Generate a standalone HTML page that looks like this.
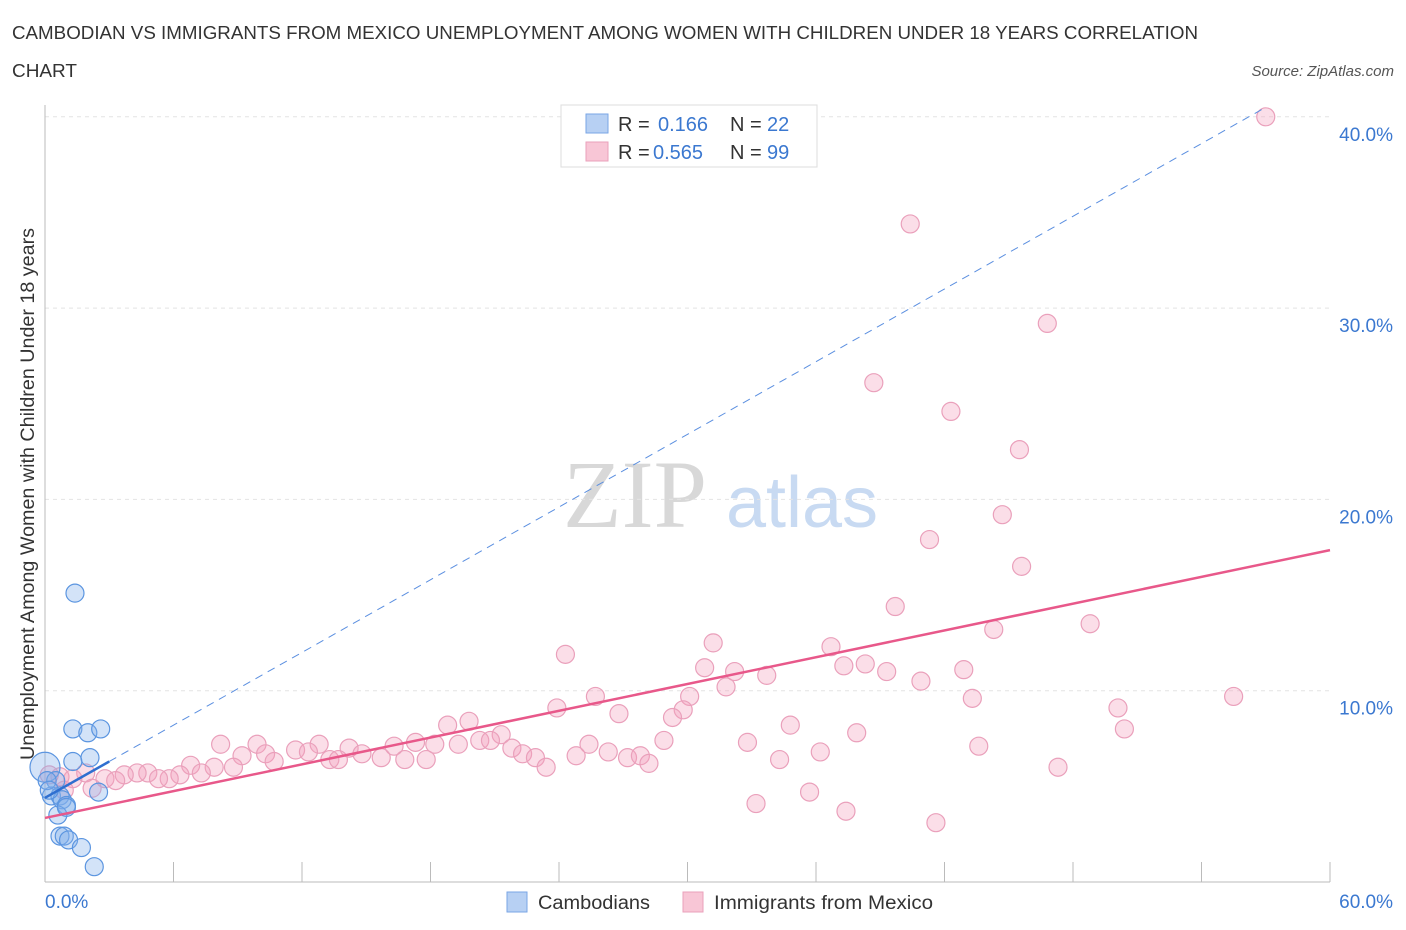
<!DOCTYPE html>
<html><head><meta charset="utf-8"><style>
body{margin:0;background:#fff;font-family:"Liberation Sans",sans-serif;}
svg{display:block}
</style></head><body>
<svg id="chart" width="1406" height="930" xmlns="http://www.w3.org/2000/svg">
<text x="12" y="39" font-size="18.5" fill="#333" textLength="1186" lengthAdjust="spacingAndGlyphs">CAMBODIAN VS IMMIGRANTS FROM MEXICO UNEMPLOYMENT AMONG WOMEN WITH CHILDREN UNDER 18 YEARS CORRELATION</text>
<text x="12" y="77" font-size="18.5" fill="#333" textLength="65" lengthAdjust="spacingAndGlyphs">CHART</text>
<text x="1394" y="76" font-size="15" fill="#555" font-style="italic" text-anchor="end">Source: ZipAtlas.com</text>
<text x="635" y="527" font-size="96" fill="#d8d8d8" font-family="Liberation Serif, serif" text-anchor="middle">ZIP</text>
<text x="802" y="527" font-size="72" fill="#c8daf2" text-anchor="middle">atlas</text>
<g id="grid"></g>
<g id="axes"></g>
<text transform="translate(34,494) rotate(-90)" font-size="19" fill="#333" text-anchor="middle" textLength="532" lengthAdjust="spacingAndGlyphs">Unemployment Among Women with Children Under 18 years</text>
<g id="marks"></g>
<g>
<rect x="561" y="105" width="256" height="62" fill="#fff" stroke="#ddd"/>
<rect x="586" y="114" width="22" height="19" fill="#b7d0f3" stroke="#7aa6e6"/>
<rect x="586" y="142" width="22" height="19" fill="#f8c6d6" stroke="#eaa0bb"/>
<text x="618" y="131" font-size="20" fill="#333">R = </text><text x="658" y="131" font-size="20" fill="#3b78d0">0.166</text>
<text x="730" y="131" font-size="20" fill="#333">N = </text><text x="767" y="131" font-size="20" fill="#3b78d0">22</text>
<text x="618" y="159" font-size="20" fill="#333">R = </text><text x="653" y="159" font-size="20" fill="#3b78d0">0.565</text>
<text x="730" y="159" font-size="20" fill="#333">N = </text><text x="767" y="159" font-size="20" fill="#3b78d0">99</text>
</g>
<g>
<rect x="507" y="892" width="20" height="20" fill="#b7d0f3" stroke="#7aa6e6"/>
<text x="538" y="909" font-size="19" fill="#333" textLength="112" lengthAdjust="spacingAndGlyphs">Cambodians</text>
<rect x="683" y="892" width="20" height="20" fill="#f8c6d6" stroke="#eaa0bb"/>
<text x="714" y="909" font-size="19" fill="#333" textLength="219" lengthAdjust="spacingAndGlyphs">Immigrants from Mexico</text>
</g>
</svg>
<script>
const yTicks=[10,20,30,40];
const yTickLabels=["10.0%","20.0%","30.0%","40.0%"];
const xTickLabels=["0.0%","60.0%"];
const blueX=[1.4,1.3,2.0,2.6,1.3,2.1,0,0.5,0.3,0.7,0.8,1.0,2.5,0.6,1.0,0.7,0.9,1.1,1.7,2.3,0.1,0.2];
const blueY=[15.1,8.0,7.8,8.0,6.3,6.5,6.0,5.3,4.5,4.5,4.3,4.0,4.7,3.5,3.9,2.4,2.4,2.2,1.8,0.8,5.3,4.8];
const pinkX=[57.0,40.4,46.8,38.7,42.3,45.5,44.7,41.3,45.6,39.7,44.3,48.8,31.2,36.7,24.3,30.8,32.2,38.3,42.9,37.3,33.7,39.3,31.8,40.9,25.7,30.1,43.3,55.5,23.9,50.1,29.8,29.3,26.8,18.8,19.8,34.8,50.4,37.9,21.3,20.3,20.8,28.9,32.8,8.2,9.9,12.8,17.3,18.2,19.3,25.4,43.6,21.8,14.2,16.3,11.7,10.3,9.2,12.3,22.3,26.3,14.8,15.7,16.8,17.8,22.9,24.8,27.2,27.8,10.7,13.3,13.7,28.2,34.3,36.2,23.4,47.3,6.8,8.8,7.9,7.3,6.3,4.8,4.3,3.7,5.8,5.3,1.9,2.8,3.3,1.3,0.7,2.2,33.2,35.7,37.4,41.6,0.2,0.9];
const pinkY=[40.0,34.4,29.2,26.1,24.6,22.6,19.2,17.9,16.5,14.4,13.2,13.5,12.5,12.3,11.9,11.2,11.0,11.4,11.1,11.3,10.8,11.0,10.2,10.5,9.7,9.7,9.6,9.7,9.1,9.1,9.0,8.6,8.8,8.2,8.4,8.2,8.0,7.8,7.7,7.4,7.4,7.4,7.3,7.2,7.2,7.2,7.3,7.2,7.2,7.2,7.1,7.0,7.0,7.1,6.9,6.7,6.6,6.8,6.7,6.8,6.7,6.5,6.4,6.4,6.5,6.6,6.5,6.6,6.3,6.4,6.4,6.2,6.4,6.8,6.0,6.0,6.1,6.0,6.0,5.7,5.6,5.7,5.7,5.6,5.4,5.4,5.7,5.4,5.3,5.4,5.5,4.9,4.1,4.7,3.7,3.1,5.6,4.8];
const pinkTrend=[3.35,17.35];
const blueTrend=[4.4,6.3,40.5];
const NS="http://www.w3.org/2000/svg";
const X=v=>45+v/60*1285, Y=v=>882-v/10*191.3;
function mk(tag,attrs,parent){const e=document.createElementNS(NS,tag);for(const k in attrs)e.setAttribute(k,attrs[k]);parent.appendChild(e);return e;}
const grid=document.getElementById('grid'),axes=document.getElementById('axes'),marks=document.getElementById('marks');
yTicks.forEach((t,i)=>{
 const l=mk('line',{x1:45,x2:1330,y1:Y(t),y2:Y(t),stroke:'#e4e4e4','stroke-dasharray':'4,4'},grid);
 
 
 const tx=mk('text',{x:1393,y:Y(t)+24,'font-size':19,fill:'#3b78d0','text-anchor':'end'},grid);
 tx.textContent=yTickLabels[i];
 
 
});
const ax=mk('line',{x1:45,x2:1330,y1:882,y2:882,stroke:'#bbb'},axes);


const ay=mk('line',{x1:45,x2:45,y1:105,y2:882,stroke:'#bbb'},axes);


for(let i=0;i<=10;i++){
 const t=mk('line',{x1:X(i*6),x2:X(i*6),y1:862,y2:882,stroke:'#bbb'},axes);
 
 
}
[[0,'start',45],[60,'end',1393]].forEach((d,i)=>{
 const t=mk('text',{x:d[2],y:908,'font-size':19,fill:'#3b78d0','text-anchor':d[1]},axes);
 t.textContent=xTickLabels[i];
 
 
});
pinkX.forEach((x,i)=>{
 const c=mk('circle',{cx:X(x),cy:Y(pinkY[i]),r:9,fill:'rgba(244,160,190,0.35)',stroke:'#eaa0bb','stroke-width':1.2},marks);
 
 
});
blueX.forEach((x,i)=>{
 const c=mk('circle',{cx:X(x),cy:Y(blueY[i]),r:i===6?15:9,fill:'rgba(130,175,235,0.35)',stroke:'#5b95e0','stroke-width':1.2},marks);
 
 
});
const pl=mk('line',{x1:X(0),y1:Y(pinkTrend[0]),x2:X(60),y2:Y(pinkTrend[1]),stroke:'#e8588a','stroke-width':2.5},marks);


const bl=mk('line',{x1:X(0),y1:Y(blueTrend[0]),x2:X(3),y2:Y(blueTrend[1]),stroke:'#2f6fd0','stroke-width':2.5},marks);


const bd=mk('line',{x1:X(3),y1:Y(blueTrend[1]),x2:X(57),y2:Y(blueTrend[2]),stroke:'#5b8fe0','stroke-width':1,'stroke-dasharray':'8,6'},marks);


</script>
</body></html>
